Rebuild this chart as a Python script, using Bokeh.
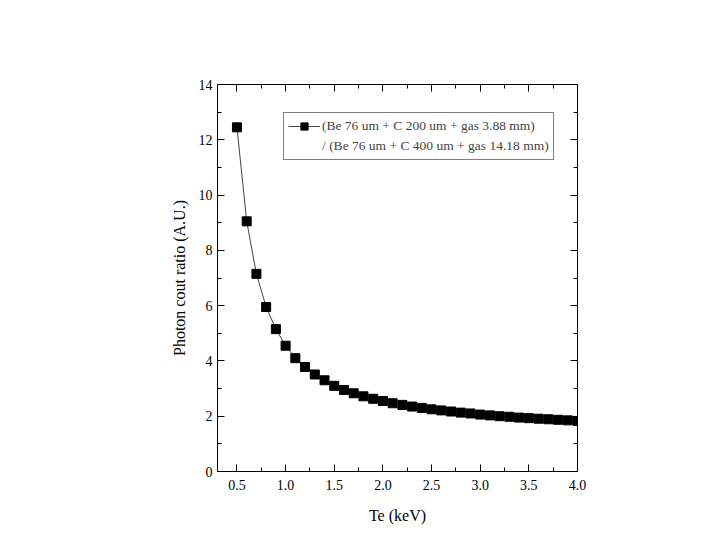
from bokeh.plotting import figure
from bokeh.models import (Range1d, LinearAxis, FixedTicker, Legend, LegendItem,
                          NumeralTickFormatter)
from bokeh.embed import file_html
from bokeh.resources import INLINE

te_kev = [0.5, 0.6, 0.7, 0.8, 0.9, 1.0, 1.1, 1.2, 1.3, 1.4, 1.5, 1.6, 1.7, 1.8,
          1.9, 2.0, 2.1, 2.2, 2.3, 2.4, 2.5, 2.6, 2.7, 2.8, 2.9, 3.0, 3.1, 3.2,
          3.3, 3.4, 3.5, 3.6, 3.7, 3.8, 3.9, 4.0]
ratio = [12.45, 9.05, 7.15, 5.95, 5.15, 4.55, 4.10, 3.78, 3.51, 3.30, 3.10, 2.95,
         2.83, 2.72, 2.63, 2.55, 2.47, 2.41, 2.35, 2.30, 2.25, 2.21, 2.17, 2.13,
         2.10, 2.06, 2.03, 2.00, 1.98, 1.95, 1.93, 1.91, 1.89, 1.87, 1.85, 1.83]
x_ticks = [0.5, 1.0, 1.5, 2.0, 2.5, 3.0, 3.5, 4.0]
x_minor = [0.75, 1.25, 1.75, 2.25, 2.75, 3.25, 3.75]
y_ticks = [0, 2, 4, 6, 8, 10, 12, 14]
y_minor = [1, 3, 5, 7, 9, 11, 13]
legend_line1 = "(Be 76 um + C 200 um + gas 3.88 mm)"
legend_line2 = "/ (Be 76 um + C 400 um + gas 14.18 mm)"

FONT = "Liberation Serif"

p = figure(width=707, height=536, output_backend="svg", toolbar_location=None,
           x_range=Range1d(0.3, 4.0), y_range=Range1d(0, 14),
           min_border_left=217, min_border_right=130, min_border_top=84,
           min_border_bottom=65, x_axis_location=None, y_axis_location=None)
p.grid.visible = False
p.outline_line_color = "black"
p.outline_line_width = 1
p.background_fill_color = "white"
p.border_fill_color = "white"

def style(ax, is_x, show_labels):
    if is_x:
        ax.ticker = FixedTicker(ticks=x_ticks, minor_ticks=x_minor)
        ax.formatter = NumeralTickFormatter(format="0.0")
    else:
        ax.ticker = FixedTicker(ticks=y_ticks, minor_ticks=y_minor)
        ax.formatter = NumeralTickFormatter(format="0")
    ax.major_tick_in = 7
    ax.major_tick_out = 0
    ax.minor_tick_in = 4
    ax.minor_tick_out = 0
    ax.axis_line_color = "black"
    ax.major_tick_line_color = "black"
    ax.minor_tick_line_color = "black"
    ax.major_label_text_font = FONT
    ax.major_label_text_font_size = "14px"
    ax.major_label_text_color = "black"
    ax.axis_label_text_font = FONT
    ax.axis_label_text_font_size = "16px"
    ax.axis_label_text_font_style = "normal"
    ax.axis_label_text_color = "black"
    if not show_labels:
        ax.major_label_text_alpha = 0
        ax.major_label_text_font_size = "0px"

xb = LinearAxis(axis_label="Te (keV)")
style(xb, True, True)
xb.major_label_standoff = 8
xb.axis_label_standoff = 14
xt = LinearAxis()
style(xt, True, False)
yl = LinearAxis(axis_label="Photon cout ratio (A.U.)")
style(yl, False, True)
yl.major_label_standoff = 5
yl.axis_label_standoff = 8
yr = LinearAxis()
style(yr, False, False)
p.add_layout(xb, "below")
p.add_layout(xt, "above")
p.add_layout(yl, "left")
p.add_layout(yr, "right")

ln = p.line(te_kev, ratio, line_color="#444444", line_width=1)
sq = p.scatter(te_kev, ratio, marker="square", size=9, fill_color="black",
               line_color="black")
dummy = p.line([], [], line_alpha=0)

legend = Legend(items=[LegendItem(label=legend_line1, renderers=[ln, sq]),
                       LegendItem(label=legend_line2, renderers=[dummy])],
                location=(66, 311), border_line_color="black", border_line_width=1,
                label_text_font=FONT, label_text_font_size="13.5px",
                glyph_width=32, glyph_height=18, label_height=18,
                label_standoff=2, padding=4, spacing=2, margin=0,
                background_fill_alpha=1)
p.add_layout(legend)

open("out.html", "w").write(file_html(p, INLINE))
